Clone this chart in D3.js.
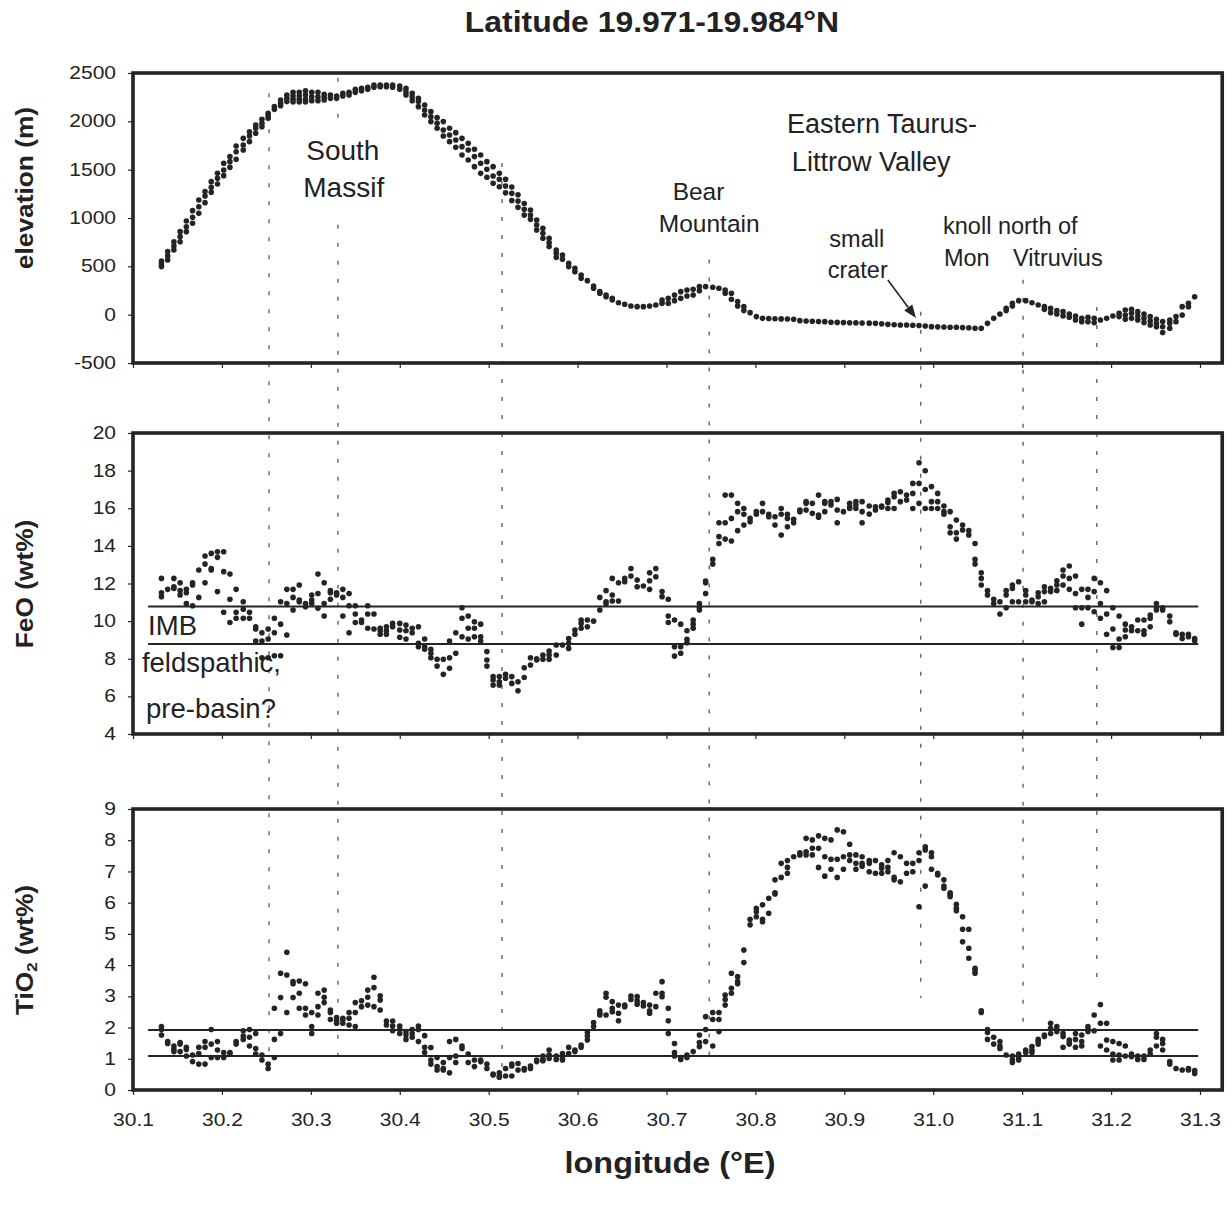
<!DOCTYPE html>
<html>
<head>
<meta charset="utf-8">
<script src="https://cdn.jsdelivr.net/npm/d3@7"></script>
<style>
body { margin: 0; background: #fff; }
svg text { font-family: "Liberation Sans", Arial, Helvetica, sans-serif; fill: #222; }
</style>
</head>
<body>
<svg id="chart" width="1232" height="1209"></svg>
<script>
// sample columns along the track (deg E)
var lon = [30.132,30.139,30.146,30.153,30.160,30.167,30.174,30.181,30.188,30.195,
  30.202,30.209,30.216,30.224,30.231,30.238,30.245,30.252,30.259,30.266,
  30.273,30.280,30.287,30.294,30.301,30.308,30.315,30.322,30.329,30.336,
  30.343,30.350,30.357,30.364,30.371,30.378,30.385,30.392,30.400,30.407,
  30.414,30.421,30.428,30.435,30.442,30.449,30.456,30.463,30.470,30.477,
  30.484,30.491,30.498,30.505,30.512,30.519,30.526,30.533,30.540,30.547,
  30.554,30.561,30.568,30.576,30.583,30.590,30.597,30.604,30.611,30.618,
  30.625,30.632,30.639,30.646,30.653,30.660,30.667,30.674,30.681,30.688,
  30.695,30.702,30.709,30.716,30.723,30.730,30.737,30.744,30.752,30.759,
  30.766,30.773,30.780,30.787,30.794,30.801,30.808,30.815,30.822,30.829,
  30.836,30.843,30.850,30.857,30.864,30.871,30.878,30.885,30.892,30.899,
  30.906,30.913,30.920,30.928,30.935,30.942,30.949,30.956,30.963,30.970,
  30.977,30.984,30.991,30.998,31.005,31.012,31.019,31.026,31.033,31.040,
  31.047,31.054,31.061,31.068,31.075,31.082,31.089,31.096,31.104,31.111,
  31.118,31.125,31.132,31.139,31.146,31.153,31.160,31.167,31.174,31.181,
  31.188,31.195,31.202,31.209,31.216,31.223,31.230,31.237,31.244,31.251,
  31.258,31.266,31.273,31.280,31.287,31.294];

// elevation (m), several latitude rows per column
var elevation = [[555,525,497],[652,607,566],[755,710,669],[859,807,755],[969,910,859],
  [1076,1007,945],[1186,1117,1048],[1273,1228,1159],[1376,1317,1266],[1462,1410,1352],
  [1566,1497,1438],[1635,1583,1524],[1745,1686,1607],[1824,1755,1704],[1893,1848,1790],
  [1962,1928,1876],[2021,1979,1945],[2083,2055,2031],[2152,2124],[2221,2186,2162],
  [2272,2238,2204],[2300,2262,2228,2200],[2300,2262,2228,2200],[2317,2272,2228,2200],[2300,2255,2214],
  [2300,2255,2214],[2279,2248,2221],[2272,2238],[2262,2238],[2290,2262],
  [2300,2272],[2331,2300],[2341,2317],[2352,2331],[2376,2352],
  [2376,2359],[2376,2359],[2376,2352],[2366,2331],[2341,2307,2272],
  [2290,2255,2214],[2238,2204,2152],[2169,2117,2066],[2100,2048,1997],[2038,1979,1928],
  [1997,1910,1848],[1928,1859,1790],[1883,1807,1731],[1824,1738,1652],[1773,1704,1600],
  [1711,1635,1531],[1652,1566,1462],[1583,1504,1421],[1531,1435,1359],[1462,1400,1324],
  [1400,1330,1260],[1320,1255,1180],[1240,1175,1110],[1150,1090,1030],[1083,1031,986],
  [979,928,876],[893,842,790],[790,745,704],[669,634,593],[617,573],
  [531,497],[479,445],[411,376],[352],[297,273],
  [238,221],[204,186],[169,152],[124],[107],
  [90],[83],[83],[90],[100],
  [152,117],[169,117],[204,145],[238,169],[255,193],
  [262,204],[290,248],[290],[283],[273],
  [255,221],[221,159],[135,90],[83,42],[21],
  [-20],[-38],[-40],[-42],[-44],
  [-45],[-48],[-62],[-65],[-68],
  [-70],[-72],[-79],[-80],[-82],
  [-84],[-85],[-86],[-88],[-90],
  [-95],[-100],[-105],[-107],[-107],
  [-110],[-112],[-118],[-124],[-126],
  [-128],[-130],[-130],[-134],[-136],
  [-141],[-141],[-90],[-38],[7],
  [66,42],[117,90],[145],[145],[124],
  [100],[83,55],[66,21],[42,7],[31,-14],
  [7,-27],[-14,-55],[-38,-72],[-27,-72],[-38,-82],
  [-55],[-38],[-14],[14,-20],[49,-3,-48],
  [55,14,-38],[31,-14,-55],[7,-38,-82],[-20,-65,-107],[-48,-90,-124],
  [-70,-125,-185],[-55,-90,-141],[-20,-72],[83,-3],[117,83],
  [186]];

// FeO (wt%)
var feo = [[12.27,11.51,11.30],[11.69],[12.27,11.83,11.74],[12.04,11.62,11.39],[11.69,11.51,10.94],
  [12.04,11.92,10.82],[12.72,11.26],[13.46,13.03,12.04],[13.60,12.80,12.72],[13.69,13.39,11.57],
  [13.69,12.63,10.47],[12.50,11.16,9.93],[11.69,10.47,10.15],[11.03,10.63,10.15],[10.47,10.15],
  [9.70,9.58,8.94],[9.38,8.94,8.05],[9.58,9.05,8.05],[10.15,9.38,8.16],[11.03,9.84,8.16],
  [11.69,10.94,9.26],[11.69,11.26,10.59],[11.92,11.12,11.03],[10.94,10.77],[11.39,11.12,10.94],
  [12.50,11.47,10.68],[12.04,10.94,10.27],[11.62,11.51,11.16],[11.51,11.39],[11.69,11.26,10.27],
  [11.47,10.82,9.38],[10.82,10.38,9.93],[10.06,9.93],[10.82,10.38,9.62],[10.38,9.58],
  [9.62,9.49,9.30],[9.70,9.49,9.30],[9.88,9.70],[9.88,9.53,9.14],[9.79,9.49,9.05],
  [9.62,9.38],[9.70,8.82,8.64],[9.05,8.64,8.50],[8.50,8.29,8.05],[7.97,7.61],
  [7.97,7.17],[8.94,8.05,7.49],[9.38,8.29],[10.71,10.15,9.17],[10.27,9.62,9.05],
  [9.97,9.62,9.17],[9.84,9.17,8.94],[8.38,7.93,7.61],[7.05,6.87,6.60],[7.05,6.78,6.60],
  [7.17,6.96],[7.05,6.69],[6.78,6.30],[7.52,7.00],[8.05,7.67],
  [8.00,7.93],[8.20,7.97],[8.41,8.20,7.97],[8.73,8.20],[8.73],
  [9.08,8.82,8.55],[9.53,9.30],[10.06,9.88,9.62],[10.06,9.70],[10.00],
  [11.26,10.59],[11.62,11.03,10.94],[12.27,11.39,11.07],[12.04,11.07],[12.27,12.09],
  [12.80,12.40],[12.18,11.83],[11.87],[12.57,12.15,11.69],[12.80,12.36],
  [11.57,11.30],[11.16,10.27,9.93],[10.06,8.64,8.14],[9.84,8.64,8.29],[9.49,9.03,8.85],
  [10.06,9.84,9.62],[10.94,10.73,10.59],[12.13,12.04,11.47],[13.28,13.03],[15.23,14.49,14.13],
  [16.70,15.23,14.36],[16.70,15.46,14.26],[16.26,15.82,14.81],[15.99,15.68,15.11],[15.46,15.28],
  [15.82,15.68],[16.26,15.82],[15.68,15.55],[15.55,15.11],[15.99,15.68,14.58],
  [15.68,15.46,15.02],[15.41,15.23],[15.91,15.82],[16.35,16.26,15.91],[16.26,15.73],
  [16.70,15.64,15.52],[16.35,16.26,15.82],[16.35,16.17],[16.47,15.91,15.23],[15.82],
  [16.26,16.08,15.99],[16.35,16.17,15.99],[16.35,15.82,15.23],[16.12,15.69],[16.08,15.91],
  [16.12,16.05],[16.44,16.30,15.99],[16.79,16.61,15.99],[16.88,16.35],[16.70,16.44],
  [17.32,16.79,15.99],[18.42,17.32,16.26],[17.99,17.00,15.99],[17.15,16.35,15.99],[16.79,16.35,15.99],
  [16.12,15.82,15.68],[15.82,15.02,14.70],[15.37,14.70,14.36],[15.11,14.84],[14.81,14.58],
  [14.13,13.28,13.03],[12.57,12.27,11.92],[11.62,11.39],[11.16,10.94],[11.03,10.38],
  [11.62,11.39,10.71],[11.92,11.74,11.03],[12.09,11.03],[11.62,11.39,11.03],[11.12,11.03],
  [11.51,11.30,10.94],[11.83,11.57,11.03],[11.74,11.57],[12.15,11.92,11.62],[12.72,12.40,11.92],
  [12.93,12.27,11.69],[12.40,11.47,10.71],[11.69,10.71,9.84],[11.69,11.26,10.71],[12.27,11.57,10.50],
  [12.04,10.94,10.15],[11.62,10.38,9.30],[10.71,9.58,8.60],[10.27,9.05,8.60],[9.84,9.53,9.17],
  [9.70,9.49],[10.06,9.49],[10.06,9.49,9.30],[10.32,10.15,9.70],[10.94,10.71,10.59],
  [10.71,10.59],[10.27,9.97],[9.38,9.30],[9.30,9.08],[9.30,9.17],
  [9.08,8.96]];

// TiO2 (wt%)
var tio2 = [[2.03,1.94,1.76],[1.55,1.49],[1.41,1.30,1.23],[1.52,1.47,1.23],[1.37,1.30,1.09],
  [1.12,0.91],[1.37,1.17,0.83],[1.55,1.37,0.83],[1.94,1.47,1.04],[1.55,1.28,1.04],
  [1.20,1.04],[1.20,1.15],[1.55,1.47],[1.90,1.73,1.62],[1.94,1.69,1.41],
  [1.81,1.33,1.15],[1.12,0.96],[0.83,0.69],[2.62,1.62,1.04],[3.74,2.96,1.81],
  [4.41,3.68,2.48],[3.47,3.40,2.96],[3.49,3.10,2.62],[3.40,2.62,2.40],[2.48,2.03,1.81],
  [3.10,2.67,2.40],[3.20,2.97,2.80],[2.56,2.48,2.26],[2.32,2.22,2.14],[2.30,2.24,2.14],
  [2.48,2.30,2.08],[2.80,2.48,2.03],[2.86,2.67],[3.20,2.97,2.72],[3.61,3.28,2.67],
  [3.02,2.88,2.56],[2.21,2.08],[2.21,2.05,1.90],[2.05,1.94,1.81],[1.87,1.76,1.62],
  [1.94,1.81,1.69],[2.05,1.94,1.55],[1.74,1.37,1.20],[1.36,0.96,0.83],[1.04,0.75,0.64],
  [0.88,0.69,0.64],[1.55,1.04,0.55],[1.62,1.09,0.88],[1.41,1.33],[1.15,0.88],
  [0.96,0.75],[0.96,0.91],[0.83,0.69],[0.51,0.48],[0.55,0.45,0.41],
  [0.69,0.45],[0.83,0.77,0.45],[0.85,0.64],[0.69,0.64],[0.77,0.69],
  [0.96,0.91],[1.09,0.98,0.94],[1.28,1.12,1.01],[1.09,0.98],[1.17,1.01,0.96],
  [1.37,1.17],[1.28,1.23],[1.44,1.37],[1.84,1.73,1.60],[2.16,2.03],
  [2.54,2.46,2.40],[3.10,2.97,2.40],[2.83,2.62,2.51],[2.72,2.46,2.22],[2.72,2.67],
  [3.01,2.90],[2.99,2.86,2.75],[2.80,2.69],[2.72,2.54,2.46],[3.10,2.67],
  [3.47,3.10,2.99],[2.62,2.22,1.81],[1.49,1.20,1.09],[1.04,0.98],[1.12,1.04],
  [1.23],[1.76,1.52,1.39],[2.35,1.94,1.55],[2.48,2.26,1.41],[2.48,2.26,1.87],
  [3.04,2.90,2.72],[3.74,3.26,3.10],[3.63,3.47,3.40],[4.48,4.08],[5.47,5.29],
  [5.82,5.71,5.55],[5.93,5.47,5.39],[6.14,5.66],[6.73,6.32,6.28],[7.26,6.81],
  [7.35,7.13,6.94],[7.47],[7.60,7.53],[8.06,7.63,7.53],[8.01,7.74,7.53],
  [8.14,7.74,7.13],[8.06,7.47,6.85],[8.01,7.39,7.07],[8.33,7.39,6.81],[8.27,7.47,7.07],
  [7.87,7.53,7.35],[7.53,7.26,7.07],[7.47,7.26,7.17],[7.35,7.26,6.99],[7.35,6.94],
  [7.21,7.10,6.94],[7.35,7.13,6.99],[7.60,6.81,6.73],[7.47,6.67],[7.26,6.94],
  [7.26,6.99],[7.60,7.35,5.87],[7.79,7.69,6.53],[7.60,7.47,7.07],[6.94,6.89],
  [6.73,6.53,6.46],[6.32,6.25,6.19],[5.95,5.82,5.74],[5.55,5.15,4.75],[5.15,4.54,4.22],
  [3.90,3.82,3.74],[2.54,2.48],[1.94,1.84,1.62],[1.69,1.47],[1.55,1.41,1.33],
  [1.12],[1.09,0.96,0.88],[1.15,1.01,0.96],[1.28,1.20],[1.39,1.28,1.20],
  [1.62,1.55,1.47],[1.76,1.71],[2.14,1.98,1.81],[2.03,1.94,1.87],[1.81,1.71,1.37],
  [1.60,1.52,1.47],[1.81,1.62,1.37],[1.76,1.55,1.41],[2.03,1.94,1.87],[2.40,1.90],
  [2.74,2.14,1.41],[2.14,1.60,1.28],[1.55,1.15,0.96],[1.49,1.12,0.96],[1.41,1.09],
  [1.15,1.07],[1.09,0.98],[1.09,0.98],[1.28,1.15],[1.81,1.69,1.41],
  [1.62,1.49,1.28],[0.91,0.83],[0.69],[0.64],[0.69,0.64],
  [0.62,0.53]];

var xTicks = [30.1,30.2,30.3,30.4,30.5,30.6,30.7,30.8,30.9,31.0,31.1,31.2,31.3];
var elevTicks = [-500,0,500,1000,1500,2000,2500];
var feoTicks = [4,6,8,10,12,14,16,18,20];
var tioTicks = [0,1,2,3,4,5,6,7,8,9];

// IMB band limits
var feoBand = [10.78, 8.78];
var tioBand = [1.92, 1.09];
var bandLon = [30.117, 31.298];

// feature markers: longitude, top (elevation m), bottom (TiO2 wt%)
var markers = [
  {lon: 30.253, top: 2290, bottom: 0.6},
  {lon: 30.3305, top: 2450, gap: [2030, 930], bottom: 0.85},
  {lon: 30.515, top: 1570, bottom: 0.3},
  {lon: 30.748, top: 570, bottom: 1.0},
  {lon: 30.986, top: 30, bottom: 2.95},
  {lon: 31.101, top: 360, bottom: 2.0},
  {lon: 31.184, top: 80, bottom: 3.2}
];

var svg = d3.select("#chart");
var ink = "#242424";

var x = d3.scaleLinear().domain([30.1, 31.3]).range([133, 1200]);
var xEnd = 31.325;

var yElev = d3.scaleLinear().domain([-500, 2500]).range([363, 73]);
var yFeo = d3.scaleLinear().domain([4, 20]).range([734, 433]);
var yTio = d3.scaleLinear().domain([0, 9]).range([1090, 809]);

var panels = [
  {data: elevation, y: yElev, ticks: elevTicks},
  {data: feo, y: yFeo, ticks: feoTicks},
  {data: tio2, y: yTio, ticks: tioTicks}
];

function label(g, px, py, str, o) {
  var tr = "translate(" + px + "," + py + ")";
  if (o.rotate) tr += " rotate(" + o.rotate + ")";
  tr += " scale(" + (o.sx || 1) + ",1)";
  return g.append("text")
    .attr("transform", tr)
    .attr("text-anchor", o.anchor || "start")
    .attr("font-size", o.size)
    .attr("font-weight", o.bold ? "bold" : "normal")
    .text(str);
}

// dashed feature lines
var mk = svg.append("g").attr("stroke", "#3a3a3a").attr("stroke-width", 1.1)
  .attr("stroke-dasharray", "4,14");
markers.forEach(function(m) {
  var segs = m.gap ? [[yElev(m.top), yElev(m.gap[0])], [yElev(m.gap[1]), yTio(m.bottom)]]
                   : [[yElev(m.top), yTio(m.bottom)]];
  segs.forEach(function(s) {
    mk.append("line").attr("x1", x(m.lon)).attr("x2", x(m.lon))
      .attr("y1", s[0]).attr("y2", s[1]);
  });
});

panels.forEach(function(p, i) {
  var y0 = p.y.range()[0], y1 = p.y.range()[1];

  var gx = svg.append("g").attr("transform", "translate(0," + y0 + ")")
    .call(d3.axisBottom(x).tickValues(xTicks).tickSize(5).tickPadding(19)
      .tickFormat(i == 2 ? d3.format(".1f") : ""));
  gx.select(".domain").remove();
  gx.selectAll("line").attr("stroke", ink).attr("stroke-width", 1.2);
  gx.selectAll("text").attr("font-size", 17.5).attr("fill", ink)
    .attr("font-family", "Liberation Sans, Arial, sans-serif")
    .attr("transform", "scale(1.2,1)");

  var gy = svg.append("g").attr("transform", "translate(" + x(30.1) + ",0)")
    .call(d3.axisLeft(p.y).tickValues(p.ticks).tickSize(5).tickPadding(9.2)
      .tickFormat(function(d) { return String(d); }));
  gy.select(".domain").remove();
  gy.selectAll("line").attr("stroke", ink).attr("stroke-width", 1.2);
  gy.selectAll("text").attr("font-size", 17.5).attr("fill", ink)
    .attr("font-family", "Liberation Sans, Arial, sans-serif")
    .attr("transform", "scale(1.2,1)");

  svg.append("rect")
    .attr("x", x(30.1)).attr("y", y1)
    .attr("width", x(xEnd) - x(30.1)).attr("height", y0 - y1)
    .attr("fill", "none").attr("stroke", ink).attr("stroke-width", 3.6);

  var pts = [];
  lon.forEach(function(L, k) {
    p.data[k].forEach(function(v) { pts.push([L, v]); });
  });
  svg.append("g").selectAll("circle").data(pts).enter().append("circle")
    .attr("cx", function(d) { return x(d[0]); })
    .attr("cy", function(d) { return p.y(d[1]); })
    .attr("r", 2.8)
    .attr("fill", ink);
});

// IMB reference lines
[[yFeo, feoBand], [yTio, tioBand]].forEach(function(b) {
  b[1].forEach(function(v) {
    svg.append("line")
      .attr("x1", x(bandLon[0])).attr("x2", x(bandLon[1]))
      .attr("y1", b[0](v)).attr("y2", b[0](v))
      .attr("stroke", ink).attr("stroke-width", 2);
  });
});

// titles
label(svg, 652, 32, "Latitude 19.971-19.984\u00B0N", {size: 29, bold: true, anchor: "middle", sx: 1.1});
label(svg, 670, 1173, "longitude (\u00B0E)", {size: 30, bold: true, anchor: "middle", sx: 1.08});
label(svg, 33, 188, "elevation (m)", {size: 23.5, bold: true, anchor: "middle", rotate: -90, sx: 1.12});
label(svg, 33, 584, "FeO (wt%)", {size: 23.5, bold: true, anchor: "middle", rotate: -90, sx: 1.12});
var tl = label(svg, 33, 950, "", {size: 23.5, bold: true, anchor: "middle", rotate: -90, sx: 1.12});
tl.append("tspan").text("TiO");
tl.append("tspan").text("2").attr("font-size", 15).attr("dy", 4);
tl.append("tspan").text(" (wt%)").attr("dy", -4);

// annotations (anchored in data coordinates)
var notes = [
  {t: "South", lon: 30.336, v: 1600, y: yElev, size: 28, anchor: "middle"},
  {t: "Massif", lon: 30.337, v: 1217, y: yElev, size: 28, anchor: "middle"},
  {t: "Eastern Taurus-", lon: 30.8355, v: 1879, y: yElev, size: 27},
  {t: "Littrow Valley", lon: 30.841, v: 1486, y: yElev, size: 27},
  {t: "Bear", lon: 30.736, v: 1186, y: yElev, size: 24.5, anchor: "middle"},
  {t: "Mountain", lon: 30.748, v: 858, y: yElev, size: 24.5, anchor: "middle"},
  {t: "small", lon: 30.914, v: 700, y: yElev, size: 23.5, anchor: "middle"},
  {t: "crater", lon: 30.915, v: 379, y: yElev, size: 23.5, anchor: "middle"},
  {t: "knoll north of", lon: 31.011, v: 830, y: yElev, size: 23.5},
  {t: "Mon", lon: 31.012, v: 500, y: yElev, size: 23.5},
  {t: "Vitruvius", lon: 31.0897, v: 500, y: yElev, size: 23.5}
];
var feoNotes = [
  {t: "IMB", lon: 30.117, v: 9.26, size: 27.5},
  {t: "feldspathic,", lon: 30.110, v: 7.29, size: 27.5},
  {t: "pre-basin?", lon: 30.1146, v: 4.85, size: 27.5}
];
feoNotes.forEach(function(n) { n.y = yFeo; notes.push(n); });
notes.forEach(function(n) {
  label(svg, x(n.lon), n.y(n.v), n.t, {size: n.size, anchor: n.anchor || "start"}).attr("fill", "#2a2a2a");
});

// arrow to the small crater
var a0 = [x(30.949), yElev(358)], a1 = [x(30.9806), yElev(-35)];
var ang = Math.atan2(a1[1] - a0[1], a1[0] - a0[0]);
var hl = 13, hw = 5;
var base = [a1[0] - hl * Math.cos(ang), a1[1] - hl * Math.sin(ang)];
svg.append("line").attr("x1", a0[0]).attr("y1", a0[1]).attr("x2", base[0]).attr("y2", base[1])
  .attr("stroke", ink).attr("stroke-width", 1.6);
svg.append("path")
  .attr("d", "M" + a1[0] + "," + a1[1] +
    "L" + (base[0] + hw * Math.sin(ang)) + "," + (base[1] - hw * Math.cos(ang)) +
    "L" + (base[0] - hw * Math.sin(ang)) + "," + (base[1] + hw * Math.cos(ang)) + "Z")
  .attr("fill", ink);
</script>
</body>
</html>
